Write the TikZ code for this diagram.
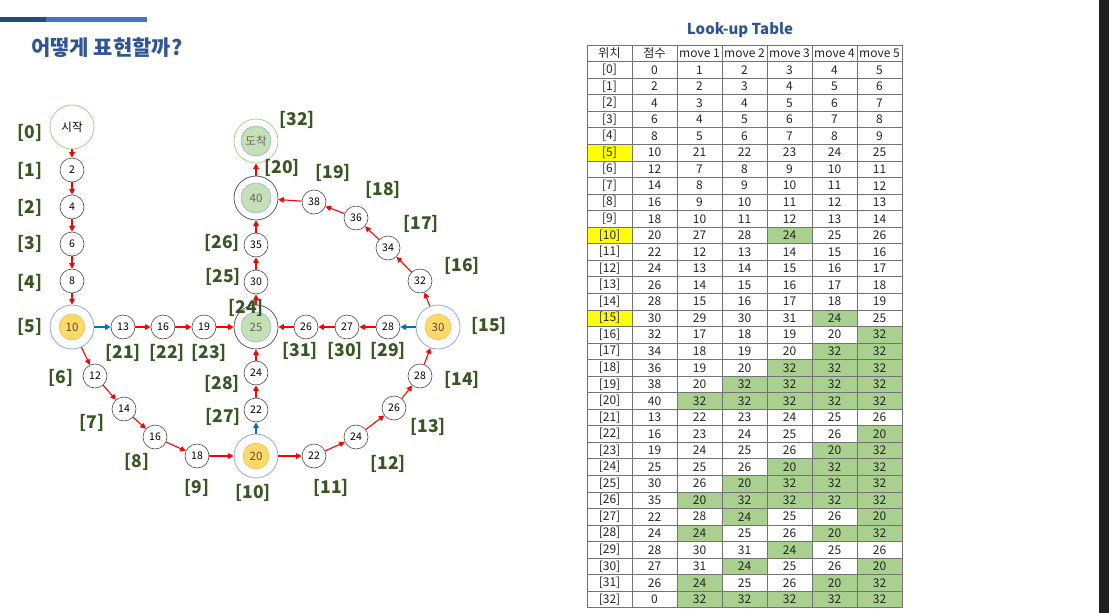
\documentclass[tikz,border=0pt]{standalone}
\usepackage{fontspec}
\setmainfont{Noto Sans CJK KR}
\usetikzlibrary{arrows.meta}
\definecolor{tblue}{HTML}{2F5597}
\definecolor{lgreen}{HTML}{385723}
\definecolor{barDark}{HTML}{1F4E79}
\definecolor{barLight}{HTML}{4472C4}
\definecolor{ringBlue}{HTML}{8FAADC}
\definecolor{ringGreen}{HTML}{A9D18E}
\definecolor{fillYellow}{HTML}{FFD966}
\definecolor{lineYellow}{HTML}{D6B656}
\definecolor{fillGreen}{HTML}{C5E0B4}
\definecolor{cellGreen}{HTML}{A9D08E}
\definecolor{cellYellow}{HTML}{FFFF00}
\definecolor{arrRed}{HTML}{FF0000}
\definecolor{arrBlue}{HTML}{0070C0}
\definecolor{edgeDark}{HTML}{202020}
\begin{document}
\begin{tikzpicture}[x=1pt,y=-1pt,
  sn/.style={circle,draw=black!70,line width=0.6pt,minimum size=24pt,inner sep=0pt,font=\fontsize{10.5}{12}\selectfont},
  ringb/.style={circle,draw=ringBlue,line width=0.8pt,minimum size=44pt,inner sep=0pt},
  ringk/.style={circle,draw=black!70,line width=0.7pt,minimum size=44pt,inner sep=0pt},
  ringg/.style={circle,draw=ringGreen,line width=0.8pt,minimum size=44pt,inner sep=0pt},
  inY/.style={circle,fill=fillYellow,draw=lineYellow,line width=0.4pt,minimum size=26pt,inner sep=0pt,text=black!70,font=\fontsize{11.5}{12}\selectfont},
  inG/.style={circle,fill=fillGreen,draw=ringBlue,line width=0.5pt,minimum size=30pt,inner sep=0pt,text=black!60,font=\fontsize{11.5}{12}\selectfont},
  lab/.style={text=lgreen,font=\fontsize{17.5}{18}\selectfont\bfseries,inner sep=0pt},
  ra/.style={draw=arrRed,line width=1.1pt,-{Triangle[length=5.5pt,width=5.5pt]}},
  ba/.style={draw=arrBlue,line width=1.1pt,-{Triangle[length=5.5pt,width=5.5pt]}},
  tc/.style={font=\fontsize{12}{13}\selectfont,text=black!85,inner sep=0pt},
  tline/.style={draw=black!55,line width=0.6pt}
]
\useasboundingbox (0,0) rectangle (1109,613);
\fill[white] (0,0) rectangle (1109,613);
\fill[edgeDark] (1099,0) rectangle (1109,613);
\fill[barDark] (0,17) rectangle (46,22);
\fill[barLight] (46,17) rectangle (147,22);
\node[anchor=west,text=tblue,font=\fontsize{21}{24}\selectfont\bfseries,inner sep=0pt] (title) at (31,48) {어떻게 표현할까?};

% ---------- table ----------
\node[text=tblue,font=\fontsize{15}{16}\selectfont\bfseries,inner sep=0pt] (ttitle) at (740,30) {Look-up Table};
\foreach \r in {5,10,15}
  \fill[cellYellow] (587,{45+16.55*(\r+1)}) rectangle (632,{45+16.55*(\r+2)});
\foreach \c/\r in {4/10,5/15,6/16,5/17,6/17,4/18,5/18,6/18,3/19,4/19,5/19,6/19,
  2/20,3/20,4/20,5/20,6/20,6/22,5/23,6/23,4/24,5/24,6/24,3/25,4/25,5/25,6/25,
  2/26,3/26,4/26,5/26,6/26,3/27,6/27,2/28,5/28,6/28,4/29,3/30,6/30,2/31,5/31,6/31,
  2/32,3/32,4/32,5/32,6/32}
  \fill[cellGreen] ({587+45*\c},{45+16.55*(\r+1)}) rectangle ({587+45*(\c+1)},{45+16.55*(\r+2)});
\foreach \i in {0,...,7}
  \draw[tline] ({587+45*\i},45) -- ({587+45*\i},{45+16.55*34});
\foreach \j in {0,...,34}
  \draw[tline] (587,{45+16.55*\j}) -- (902,{45+16.55*\j});
\node[tc] (h0) at (609.5,53.3) {위치};
\node[tc] (h1) at (654.5,53.3) {점수};
\foreach \k in {1,...,5}
  \node[tc] (hm\k) at ({654.5+45*\k},53.3) {move \k};
\foreach \r/\s/\va/\vb/\vc/\vd/\ve in {
  0/0/1/2/3/4/5, 1/2/2/3/4/5/6, 2/4/3/4/5/6/7, 3/6/4/5/6/7/8, 4/8/5/6/7/8/9,
  5/10/21/22/23/24/25, 6/12/7/8/9/10/11, 7/14/8/9/10/11/12, 8/16/9/10/11/12/13,
  9/18/10/11/12/13/14, 10/20/27/28/24/25/26, 11/22/12/13/14/15/16,
  12/24/13/14/15/16/17, 13/26/14/15/16/17/18, 14/28/15/16/17/18/19,
  15/30/29/30/31/24/25, 16/32/17/18/19/20/32, 17/34/18/19/20/32/32,
  18/36/19/20/32/32/32, 19/38/20/32/32/32/32, 20/40/32/32/32/32/32,
  21/13/22/23/24/25/26, 22/16/23/24/25/26/20, 23/19/24/25/26/20/32,
  24/25/25/26/20/32/32, 25/30/26/20/32/32/32, 26/35/20/32/32/32/32,
  27/22/28/24/25/26/20, 28/24/24/25/26/20/32, 29/28/30/31/24/25/26,
  30/27/31/24/25/26/20, 31/26/24/25/26/20/32, 32/0/32/32/32/32/32}{
  \pgfmathsetmacro{\yy}{45+16.55*(\r+1.5)}
  \node[tc] (p\r) at (609.5,\yy) {[\r]};
  \node[tc] (s\r) at (654.5,\yy) {\s};
  \node[tc] (a\r) at (699.5,\yy) {\va};
  \node[tc] (b\r) at (744.5,\yy) {\vb};
  \node[tc] (c\r) at (789.5,\yy) {\vc};
  \node[tc] (d\r) at (834.5,\yy) {\vd};
  \node[tc] (e\r) at (879.5,\yy) {\ve};
}

% ---------- board ----------
\node[ringg] (st) at (72,127) {};
\node[font=\fontsize{11.5}{12}\selectfont,inner sep=0pt] (stt) at (72,127) {시작};
\node[sn] (n1) at (72,170) {2};
\node[sn] (n2) at (72,207) {4};
\node[sn] (n3) at (72,244) {6};
\node[sn] (n4) at (72,281) {8};
\node[ringb] (n5) at (72,327) {};
\node[inY] (n5i) at (72,327) {10};
\node[sn] (n6) at (95,376) {12};
\node[sn] (n7) at (124,409) {14};
\node[sn] (n8) at (155,437) {16};
\node[sn] (n9) at (197,456) {18};
\node[ringb] (n10) at (256,456) {};
\node[inY] (n10i) at (256,456) {20};
\node[sn] (n11) at (314,456) {22};
\node[sn] (n12) at (356,437) {24};
\node[sn] (n13) at (394,408) {26};
\node[sn] (n14) at (420,376) {28};
\node[ringb] (n15) at (438,327) {};
\node[inY] (n15i) at (438,327) {30};
\node[sn] (n16) at (420,281) {32};
\node[sn] (n17) at (388,248) {34};
\node[sn] (n18) at (356,218) {36};
\node[sn] (n19) at (314,202) {38};
\node[ringk] (n20) at (256,198) {};
\node[inG] (n20i) at (256,198) {40};
\node[sn] (n21) at (123,327) {13};
\node[sn] (n22) at (163,327) {16};
\node[sn] (n23) at (204,327) {19};
\node[ringk] (n24) at (256,327) {};
\node[inG] (n24i) at (256,327) {25};
\node[sn] (n25) at (256,282) {30};
\node[sn] (n26) at (256,245) {35};
\node[sn] (n27) at (256,410) {22};
\node[sn] (n28) at (256,373) {24};
\node[sn] (n29) at (388,327) {28};
\node[sn] (n30) at (347,327) {27};
\node[sn] (n31) at (306,327) {26};
\node[ringg] (n32) at (256,141) {};
\node[inG] (n32i) at (256,141) {도착};

\foreach \a/\b in {st/n1,n1/n2,n2/n3,n3/n4,n4/n5,n5/n6,n6/n7,n7/n8,n8/n9,n9/n10,
  n10/n11,n11/n12,n12/n13,n13/n14,n14/n15,n15/n16,n16/n17,n17/n18,n18/n19,n19/n20,
  n20/n32,n21/n22,n22/n23,n23/n24,n24/n25,n25/n26,n26/n20,n27/n28,n28/n24,
  n29/n30,n30/n31,n31/n24}
  \draw[ra] (\a) -- (\b);
\draw[ba] (n5) -- (n21);
\draw[ba] (n15) -- (n29);
\draw[ba] (n10) -- (n27);

\foreach \t/\x/\y in {0/30/133,1/30/171,2/30/208,3/30/244,4/30/283,5/30/327,
  6/61/378,7/92/423,8/137/462,9/197/488,10/253/493,11/331/488,12/388/464,
  13/428/427,14/462/380,15/489/326,16/462/266,17/421/224,18/383/190,19/333/173,
  20/282/168,21/123/353,22/167/353,23/209/353,24/246/308,25/223/277,26/222/243,
  27/223/417,28/222/384,29/388/351,30/345/351,31/300/351,32/297/120}
  \node[lab] (L\t) at (\x,\y) {[\t]};
\end{tikzpicture}
\end{document}
